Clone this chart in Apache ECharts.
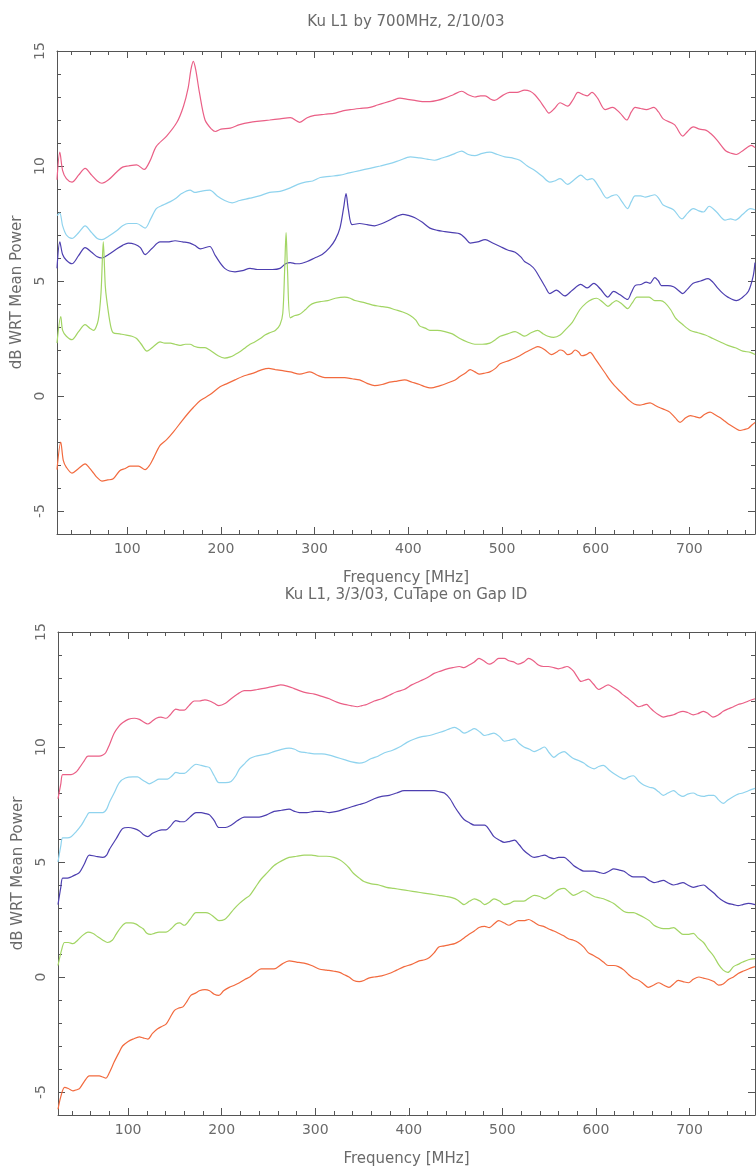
<!DOCTYPE html>
<html>
<head>
<meta charset="utf-8">
<script src="https://cdn.jsdelivr.net/npm/echarts@6/dist/echarts.min.js"></script>
<style>
  html, body { margin: 0; padding: 0; background: #ffffff; }
  #chart { width: 756px; height: 1171px; }
</style>
</head>
<body>
<div id="chart"></div>
<script>
// ---- Titles and axis text ----
const titleFeb = 'Ku L1 by 700MHz, 2/10/03';
const titleMar = 'Ku L1, 3/3/03, CuTape on Gap ID';
const xName = 'Frequency [MHz]';
const yName = 'dB WRT Mean Power';

// ---- Axis ranges and tick values ----
const xRange = [25, 770];
const yRange = [-6, 15];
const xMajorTicks = [100, 200, 300, 400, 500, 600, 700];
const xMinorTicks = [40, 60, 80, 120, 140, 160, 180, 220, 240, 260, 280, 320, 340, 360, 380,
  420, 440, 460, 480, 520, 540, 560, 580, 620, 640, 660, 680, 720, 740, 760];
const yMajorTicks = [-5, 0, 5, 10, 15];
const yMinorTicks = [-4, -3, -2, -1, 1, 2, 3, 4, 6, 7, 8, 9, 11, 12, 13, 14];

// ---- 2/10/03 traces: [frequency MHz, dB] ----
const febPink = [[25,9.4],[28,10.6],[31,9.8],[35,9.45],[41,9.3],[48,9.6],[55,9.9],[62,9.6],[68,9.35],[73,9.25],[80,9.4],[89,9.75],[95,9.95],[101,10.0],[110,10.05],[118,9.85],[124,10.2],[131,10.85],[142,11.3],[153,11.9],[160,12.6],[165,13.4],[168,14.2],[170.5,14.55],[173,14.2],[177,13.2],[183,12.0],[190,11.6],[194,11.5],[200,11.6],[210,11.65],[220,11.8],[231,11.9],[241,11.95],[252,12.0],[263,12.05],[274,12.1],[284,11.9],[292,12.1],[300,12.2],[311,12.25],[322,12.3],[330,12.4],[338,12.45],[348,12.5],[359,12.55],[367,12.65],[375,12.75],[383,12.85],[391,12.95],[399,12.9],[407,12.85],[415,12.8],[423,12.8],[431,12.85],[439,12.95],[448,13.1],[457,13.25],[464,13.1],[471,13.0],[477,13.05],[482,13.05],[488,12.9],[492,12.85],[500,13.05],[508,13.2],[516,13.2],[524,13.3],[530,13.25],[535,13.1],[540,12.85],[546,12.5],[550,12.3],[556,12.5],[562,12.75],[570,12.6],[576,12.9],[581,13.2],[587,13.1],[591,13.05],[596,13.2],[602,12.95],[610,12.45],[618,12.55],[626,12.3],[633,12.0],[638,12.35],[642,12.55],[648,12.5],[654,12.45],[662,12.55],[667,12.35],[672,12.05],[684,11.8],[693,11.3],[698,11.5],[704,11.7],[711,11.6],[718,11.55],[723,11.4],[729,11.15],[739,10.65],[745,10.55],[750,10.5],[758,10.7],[766,10.9],[770,10.8]];
const febCyan = [[25,7.85],[28,7.95],[31,7.4],[35,7.0],[41,6.85],[48,7.1],[55,7.4],[62,7.1],[68,6.85],[73,6.8],[80,6.95],[89,7.2],[95,7.4],[101,7.5],[110,7.5],[119,7.3],[125,7.7],[131,8.15],[138,8.3],[146,8.45],[152,8.6],[158,8.8],[167,8.95],[172,8.85],[178,8.9],[188,8.95],[196,8.7],[204,8.5],[212,8.4],[220,8.5],[231,8.6],[241,8.7],[252,8.85],[263,8.9],[274,9.05],[282,9.2],[290,9.3],[298,9.35],[306,9.5],[316,9.55],[327,9.6],[337,9.7],[348,9.8],[359,9.9],[370,10.0],[380,10.1],[391,10.25],[402,10.4],[412,10.35],[420,10.3],[428,10.25],[436,10.35],[444,10.45],[450,10.55],[457,10.65],[464,10.5],[471,10.45],[479,10.55],[487,10.6],[495,10.5],[503,10.4],[511,10.35],[519,10.25],[527,10.0],[535,9.8],[543,9.55],[551,9.3],[556,9.35],[562,9.45],[570,9.2],[577,9.4],[584,9.6],[591,9.4],[596,9.45],[604,9.05],[612,8.6],[617,8.7],[622,8.75],[628,8.45],[634,8.15],[638,8.45],[642,8.7],[648,8.7],[653,8.65],[658,8.7],[663,8.75],[668,8.55],[672,8.3],[683,8.1],[692,7.7],[698,7.95],[704,8.15],[710,8.05],[715,8.0],[721,8.25],[729,8.0],[738,7.65],[744,7.7],[749,7.65],[757,7.9],[765,8.15],[770,8.1]];
const febPurple = [[25,5.55],[28,6.7],[31,6.15],[35,5.9],[41,5.75],[48,6.1],[55,6.45],[62,6.25],[68,6.05],[73,6.0],[80,6.15],[89,6.4],[95,6.55],[101,6.65],[108,6.6],[114,6.45],[119,6.15],[126,6.4],[135,6.7],[143,6.7],[151,6.75],[159,6.7],[167,6.65],[172,6.55],[178,6.4],[188,6.5],[194,6.1],[204,5.55],[215,5.4],[223,5.45],[231,5.55],[239,5.5],[247,5.5],[255,5.5],[263,5.55],[269,5.75],[274,5.8],[280,5.75],[284,5.75],[292,5.85],[300,6.0],[308,6.15],[316,6.45],[322,6.8],[327,7.3],[331,8.2],[333.5,8.8],[336,8.1],[340,7.45],[348,7.5],[356,7.45],[364,7.4],[372,7.5],[380,7.65],[387,7.8],[394,7.9],[400,7.85],[407,7.75],[415,7.55],[423,7.3],[431,7.2],[439,7.15],[447,7.1],[455,7.05],[461,6.85],[466,6.65],[474,6.7],[482,6.8],[490,6.65],[498,6.5],[506,6.35],[514,6.25],[520,6.05],[524,5.85],[530,5.7],[535,5.5],[541,5.1],[546,4.75],[551,4.45],[558,4.6],[567,4.35],[575,4.6],[584,4.85],[591,4.7],[598,4.9],[605,4.65],[613,4.3],[619,4.55],[626,4.4],[634,4.2],[638,4.5],[642,4.8],[648,4.85],[654,4.95],[658,4.9],[663,5.15],[667,5.0],[670,4.8],[677,4.8],[683,4.75],[688,4.6],[693,4.45],[698,4.65],[704,4.9],[712,5.0],[720,5.1],[725,4.95],[730,4.7],[736,4.45],[741,4.3],[750,4.15],[757,4.3],[763,4.55],[768,5.2],[770,5.8]];
const febGreen = [[25,2.3],[29,3.45],[31,2.85],[35,2.6],[41,2.45],[48,2.8],[55,3.1],[60,2.95],[64,2.85],[69,3.3],[72,4.5],[74.4,6.7],[76.5,4.8],[78,4.2],[82,3.1],[85,2.75],[92,2.7],[99,2.65],[105,2.6],[110,2.5],[115,2.25],[121,1.95],[128,2.15],[135,2.35],[140,2.3],[146,2.3],[151,2.25],[156,2.2],[162,2.25],[167,2.25],[172,2.15],[178,2.1],[183,2.1],[188,2.0],[197,1.75],[204,1.65],[210,1.7],[215,1.8],[221,1.95],[226,2.1],[231,2.25],[236,2.35],[242,2.5],[247,2.65],[252,2.75],[258,2.85],[263,3.1],[266,3.6],[268,5.5],[269.5,7.1],[271,5.5],[274,3.4],[279,3.5],[284,3.55],[290,3.75],[295,3.95],[300,4.05],[306,4.1],[314,4.15],[322,4.25],[332,4.3],[338,4.25],[343,4.15],[354,4.05],[362,3.95],[370,3.9],[378,3.85],[386,3.75],[394,3.65],[402,3.5],[408,3.3],[412,3.05],[418,2.95],[423,2.85],[431,2.85],[439,2.8],[447,2.7],[455,2.5],[463,2.35],[471,2.25],[479,2.25],[487,2.3],[493,2.45],[498,2.6],[506,2.7],[514,2.8],[519,2.7],[524,2.6],[531,2.75],[538,2.85],[544,2.7],[549,2.6],[555,2.55],[562,2.65],[568,2.9],[575,3.2],[583,3.75],[590,4.05],[596,4.2],[601,4.25],[607,4.1],[613,3.9],[618,4.05],[622,4.15],[628,4.0],[634,3.8],[639,4.05],[644,4.3],[650,4.3],[657,4.3],[663,4.15],[669,4.15],[674,4.05],[680,3.75],[685,3.4],[693,3.1],[701,2.85],[709,2.75],[717,2.65],[725,2.5],[733,2.35],[741,2.2],[749,2.1],[757,1.95],[765,1.9],[770,1.8]];
const febOrange = [[25,-3.2],[29,-2.0],[31.7,-2.8],[35,-3.1],[41,-3.35],[48,-3.15],[55,-2.95],[60,-3.15],[64,-3.35],[68,-3.55],[73,-3.7],[79,-3.65],[85,-3.6],[92,-3.25],[98,-3.15],[103,-3.05],[112,-3.05],[119,-3.2],[124,-3.0],[128,-2.7],[135,-2.15],[142,-1.9],[149.5,-1.55],[158,-1.1],[165,-0.75],[170.5,-0.5],[178,-0.2],[188,0.05],[199,0.4],[207,0.55],[215,0.7],[223,0.85],[231,0.95],[238,1.05],[244,1.15],[251,1.2],[258,1.15],[266,1.1],[274,1.05],[284,0.95],[295,1.05],[303,0.9],[311,0.8],[322,0.8],[332,0.8],[340,0.75],[348,0.7],[356,0.55],[364,0.45],[372,0.5],[380,0.6],[388,0.65],[396,0.7],[404,0.6],[412,0.5],[418,0.4],[423,0.35],[434,0.45],[444,0.6],[450,0.7],[455,0.85],[461,1.0],[466,1.15],[471,1.05],[476,0.95],[482,1.0],[487,1.05],[493,1.2],[498,1.4],[508,1.55],[514,1.65],[519,1.75],[525,1.9],[530,2.0],[535,2.1],[538,2.15],[542,2.1],[546,2.0],[553,1.8],[558,1.9],[562,2.0],[566,1.95],[570,1.8],[574,1.85],[578,2.0],[582,1.9],[585,1.75],[590,1.8],[594,1.9],[599,1.65],[604,1.35],[610,1.0],[615,0.7],[620,0.45],[626,0.2],[631,0.0],[636,-0.2],[641,-0.35],[647,-0.4],[652,-0.35],[658,-0.3],[663,-0.4],[668,-0.5],[674,-0.6],[679,-0.7],[685,-0.95],[690,-1.15],[696,-0.95],[701,-0.85],[706,-0.9],[711,-0.95],[716,-0.8],[722,-0.7],[727,-0.8],[733,-0.95],[738,-1.1],[743,-1.25],[749,-1.4],[754,-1.5],[759,-1.45],[763,-1.4],[767,-1.25],[770,-1.15]];

// ---- 3/3/03 traces: [frequency MHz, dB] ----
const marPink = [[25,7.75],[28,8.4],[30,8.8],[35,8.8],[39,8.8],[44,8.9],[48,9.1],[53,9.4],[57,9.6],[63,9.6],[69,9.6],[73,9.65],[76,9.75],[80,10.1],[85,10.6],[90,10.9],[94,11.05],[100,11.2],[106.6,11.25],[112,11.2],[116,11.1],[121,11.0],[125,11.1],[130,11.25],[135,11.3],[140.5,11.25],[145,11.4],[151,11.65],[156,11.6],[160,11.6],[165,11.8],[170.7,12.0],[176,12.0],[182,12.05],[187,12.0],[192,11.9],[197,11.8],[204,11.9],[210,12.1],[217,12.3],[224,12.45],[231,12.45],[238,12.5],[245,12.55],[251,12.6],[257,12.65],[263,12.7],[270,12.65],[277,12.55],[283,12.45],[291,12.35],[299,12.3],[307,12.2],[315,12.1],[323,11.95],[331,11.85],[338,11.8],[345,11.75],[350,11.8],[355,11.85],[363,12.0],[371,12.1],[379,12.25],[387,12.4],[395,12.5],[403,12.7],[411,12.85],[419,13.0],[427,13.2],[434,13.3],[441,13.4],[447,13.45],[454,13.5],[459,13.45],[464,13.55],[470,13.7],[475,13.85],[480,13.75],[486,13.6],[491,13.7],[496,13.85],[502,13.85],[507,13.75],[512,13.7],[517,13.6],[523,13.7],[528,13.85],[533,13.75],[539,13.55],[544,13.5],[549,13.5],[555,13.45],[560,13.4],[565,13.45],[569,13.5],[572,13.45],[576,13.3],[580,13.05],[584,12.85],[588,12.9],[592,12.95],[597,12.75],[603,12.5],[608,12.6],[613,12.7],[618,12.6],[624,12.45],[628,12.3],[633,12.15],[639,11.95],[646,11.75],[650,11.8],[654,11.85],[658,11.7],[662,11.55],[667,11.4],[672,11.3],[677,11.35],[683,11.4],[688,11.5],[693,11.55],[698,11.5],[704,11.4],[709,11.45],[715,11.55],[720,11.45],[725,11.3],[731,11.4],[736,11.55],[741,11.65],[747,11.75],[752,11.85],[757,11.9],[763,12.0],[770,12.1]];
const marCyan = [[25,5.0],[28,5.7],[30,6.05],[35,6.05],[39,6.1],[44,6.3],[50,6.6],[55,6.95],[58.5,7.15],[65,7.15],[73,7.15],[77,7.3],[80,7.6],[85,8.0],[90.6,8.45],[97,8.65],[105,8.7],[110,8.7],[114,8.6],[118,8.5],[122.6,8.4],[128,8.5],[133,8.6],[138,8.6],[142,8.6],[147,8.75],[151,8.9],[156,8.85],[160,8.85],[166,9.05],[172.5,9.25],[178,9.2],[183,9.15],[187,9.1],[192,8.75],[197,8.45],[204,8.45],[210,8.5],[215,8.75],[219,9.05],[225,9.3],[230,9.5],[236,9.6],[242,9.65],[249,9.7],[256,9.8],[264,9.9],[272,9.95],[278,9.9],[283,9.8],[291,9.75],[299,9.7],[307,9.7],[315,9.65],[323,9.55],[331,9.45],[339,9.35],[347,9.3],[353,9.35],[360,9.5],[367,9.6],[374,9.75],[382,9.85],[390,10.0],[398,10.2],[406,10.35],[414,10.45],[422,10.5],[430,10.6],[438,10.7],[444,10.8],[449,10.85],[454,10.75],[459,10.6],[465,10.7],[470,10.8],[476,10.65],[481,10.5],[486,10.55],[491,10.6],[497,10.45],[502,10.25],[508,10.3],[513,10.35],[518,10.15],[523,10.0],[529,9.9],[534,9.8],[540,9.9],[545,10.0],[550,9.75],[555,9.55],[560,9.7],[566,9.8],[571,9.65],[576,9.5],[582,9.4],[587,9.3],[592,9.15],[598,9.05],[603,9.15],[608,9.2],[614,9.0],[619,8.85],[625,8.7],[630,8.6],[635,8.7],[640,8.75],[646,8.5],[651,8.35],[657,8.25],[662,8.2],[667,8.05],[672,7.9],[677,8.0],[683,8.1],[688,7.95],[693,7.85],[698,7.95],[704,8.0],[709,7.9],[715,7.85],[720,7.9],[726,7.9],[731,7.7],[736,7.55],[741,7.7],[747,7.85],[752,7.95],[757,8.0],[763,8.1],[770,8.2]];
const marPurple = [[25,3.15],[28,3.9],[30,4.3],[35,4.3],[39,4.35],[44,4.45],[48,4.55],[53,4.9],[58.5,5.3],[65,5.25],[73,5.2],[77,5.3],[80,5.55],[87,6.0],[94,6.45],[100,6.5],[106.6,6.45],[112,6.35],[116,6.2],[121,6.1],[126,6.25],[131.5,6.35],[136,6.4],[140.5,6.4],[145,6.55],[151,6.8],[156,6.75],[160,6.75],[166,6.95],[172.5,7.15],[178,7.15],[183,7.1],[187,7.05],[192,6.8],[197,6.5],[204,6.5],[210,6.6],[217,6.8],[224,6.95],[232,6.95],[240,6.95],[248,7.05],[256,7.2],[264,7.25],[272,7.3],[278,7.2],[283,7.15],[291,7.15],[299,7.2],[307,7.2],[315,7.15],[323,7.2],[331,7.3],[339,7.4],[347,7.5],[355,7.6],[363,7.75],[371,7.85],[379,7.9],[387,8.0],[395,8.1],[403,8.1],[411,8.1],[419,8.1],[427,8.1],[433,8.05],[438,8.0],[444,7.75],[449,7.4],[454,7.1],[459,6.85],[465,6.7],[470,6.6],[476,6.6],[481,6.6],[486,6.4],[491,6.1],[497,5.95],[502,5.85],[508,5.9],[513,5.95],[518,5.75],[523,5.5],[529,5.3],[534,5.2],[540,5.25],[545,5.3],[550,5.2],[555,5.15],[560,5.2],[566,5.2],[571,5.05],[576,4.85],[582,4.7],[587,4.6],[592,4.6],[598,4.6],[603,4.55],[608,4.5],[614,4.6],[619,4.7],[625,4.65],[630,4.6],[635,4.45],[640,4.35],[646,4.35],[651,4.35],[657,4.2],[662,4.1],[667,4.15],[672,4.2],[677,4.1],[683,4.0],[688,4.05],[693,4.1],[698,4.0],[704,3.9],[709,3.95],[715,4.0],[720,3.85],[726,3.65],[731,3.45],[736,3.3],[741,3.2],[747,3.15],[752,3.1],[757,3.15],[763,3.2],[770,3.15]];
const marGreen = [[25,0.5],[29,1.2],[32,1.5],[36,1.5],[41,1.45],[46,1.6],[51,1.8],[57,1.95],[62,1.9],[67.5,1.75],[73,1.6],[78,1.5],[83,1.6],[87,1.85],[92,2.15],[98,2.35],[103,2.35],[108.5,2.3],[112,2.2],[116,2.1],[120,1.9],[124,1.85],[128,1.9],[133,1.95],[137,1.95],[140.5,1.95],[146,2.1],[151,2.3],[155,2.35],[160,2.25],[166,2.5],[172.5,2.8],[178,2.8],[183,2.8],[187,2.75],[192,2.6],[197,2.45],[203,2.5],[208,2.7],[213,2.95],[219,3.2],[225,3.4],[230,3.55],[236,3.9],[242,4.25],[249,4.55],[256,4.85],[264,5.05],[272,5.2],[280,5.25],[288,5.3],[296,5.3],[304,5.25],[312,5.25],[320,5.2],[326,5.1],[331,4.95],[336,4.75],[341,4.5],[347,4.3],[352,4.15],[360,4.05],[368,4.0],[376,3.9],[384,3.85],[392,3.8],[400,3.75],[408,3.7],[416,3.65],[424,3.6],[432,3.55],[440,3.5],[446,3.45],[452,3.35],[459,3.15],[465,3.3],[470,3.4],[476,3.3],[481,3.15],[486,3.25],[491,3.4],[497,3.3],[502,3.15],[508,3.2],[513,3.3],[518,3.3],[523,3.3],[529,3.45],[534,3.55],[540,3.5],[545,3.4],[550,3.5],[555,3.65],[560,3.8],[566,3.85],[571,3.7],[576,3.55],[582,3.65],[587,3.75],[592,3.65],[598,3.5],[603,3.45],[608,3.4],[614,3.3],[619,3.2],[625,3.0],[630,2.85],[635,2.8],[640,2.8],[646,2.7],[651,2.6],[657,2.45],[662,2.25],[667,2.15],[672,2.1],[677,2.1],[683,2.15],[688,2.0],[693,1.85],[698,1.85],[704,1.9],[709,1.7],[715,1.5],[720,1.2],[726,0.9],[731,0.55],[736,0.3],[741,0.2],[747,0.45],[752,0.55],[757,0.65],[763,0.75],[770,0.8]];
const marOrange = [[25,-5.75],[28,-5.2],[32,-4.8],[36,-4.85],[41,-4.95],[45,-4.9],[48,-4.85],[53,-4.55],[58.5,-4.3],[63,-4.3],[69,-4.3],[73,-4.35],[76,-4.4],[80,-4.15],[85,-3.7],[90,-3.3],[94,-3.0],[100,-2.8],[105,-2.7],[112,-2.6],[116,-2.65],[121,-2.7],[126,-2.45],[131.5,-2.25],[136,-2.15],[140.5,-2.05],[145,-1.75],[149.5,-1.45],[154,-1.35],[158.5,-1.3],[163,-1.05],[167,-0.8],[172,-0.7],[176,-0.6],[182,-0.55],[187,-0.6],[192,-0.75],[197,-0.8],[202,-0.6],[208,-0.45],[214,-0.35],[219,-0.25],[225,-0.1],[230,0.0],[236,0.2],[242,0.35],[249,0.35],[256,0.35],[264,0.55],[272,0.7],[280,0.65],[288,0.6],[296,0.5],[304,0.35],[312,0.3],[320,0.25],[326,0.2],[331,0.1],[336,0.0],[341,-0.15],[347,-0.2],[352,-0.15],[357,-0.05],[363,0.0],[371,0.05],[379,0.15],[387,0.3],[395,0.45],[403,0.55],[411,0.7],[417,0.75],[422,0.85],[427,1.05],[432,1.3],[438,1.35],[443,1.4],[449,1.45],[454,1.55],[459,1.7],[464,1.85],[470,2.0],[475,2.15],[481,2.2],[486,2.15],[491,2.3],[496,2.45],[502,2.35],[507,2.25],[512,2.35],[517,2.45],[523,2.45],[528,2.5],[533,2.4],[539,2.25],[544,2.2],[549,2.1],[555,2.0],[560,1.9],[565,1.8],[571,1.65],[576,1.6],[581,1.5],[587,1.3],[592,1.05],[597,0.95],[603,0.8],[608,0.65],[613,0.5],[619,0.5],[624,0.45],[630,0.3],[635,0.1],[640,-0.05],[646,-0.15],[651,-0.3],[656,-0.45],[662,-0.35],[667,-0.25],[672,-0.35],[678,-0.45],[683,-0.3],[688,-0.15],[693,-0.2],[699,-0.25],[704,-0.1],[710,0.0],[715,-0.05],[720,-0.1],[726,-0.2],[731,-0.35],[736,-0.3],[742,-0.1],[747,0.0],[752,0.15],[757,0.25],[763,0.35],[770,0.45]];

// ---- Styling ----
const textColor = '#6a6a6a';
const axisColor = '#555555';
const fontFamily = '"DejaVu Sans", sans-serif';
const traceColors = {
  pink: '#ea5f86',
  cyan: '#8fd3ee',
  purple: '#4d3fb0',
  green: '#a2d564',
  orange: '#f26a3e'
};

// Builds the frame of one panel: ticks on all four sides, labels on the left and bottom.
function panelAxes(gridIndex) {
  const lineStyle = { color: axisColor, width: 1 };
  const frameLine = { show: true, onZero: false, lineStyle };
  const noLine = { show: false, onZero: false };
  const xBase = { gridIndex, type: 'value', min: xRange[0], max: xRange[1], splitLine: { show: false } };
  const yBase = { gridIndex, type: 'value', min: yRange[0], max: yRange[1], splitLine: { show: false } };
  const xs = [
    Object.assign({}, xBase, {
      position: 'bottom',
      axisLine: frameLine,
      axisTick: { show: true, inside: true, length: 7, customValues: xMajorTicks, lineStyle },
      axisLabel: { show: true, customValues: xMajorTicks, margin: 8, color: textColor, fontSize: 14, fontFamily },
      name: xName, nameLocation: 'middle', nameGap: 37,
      nameTextStyle: { color: textColor, fontSize: 15, fontFamily }
    }),
    Object.assign({}, xBase, {
      position: 'bottom',
      axisLine: noLine,
      axisTick: { show: true, inside: true, length: 4, customValues: xMinorTicks, lineStyle },
      axisLabel: { show: false }
    }),
    Object.assign({}, xBase, {
      position: 'top',
      axisLine: frameLine,
      axisTick: { show: true, inside: true, length: 7, customValues: xMajorTicks, lineStyle },
      axisLabel: { show: false }
    }),
    Object.assign({}, xBase, {
      position: 'top',
      axisLine: noLine,
      axisTick: { show: true, inside: true, length: 4, customValues: xMinorTicks, lineStyle },
      axisLabel: { show: false }
    })
  ];
  const ys = [
    Object.assign({}, yBase, {
      position: 'left',
      axisLine: frameLine,
      axisTick: { show: true, inside: true, length: 7, customValues: yMajorTicks, lineStyle },
      axisLabel: { show: true, customValues: yMajorTicks, rotate: 90, margin: 10, color: textColor, fontSize: 14, fontFamily },
      name: yName, nameLocation: 'middle', nameGap: 31, nameRotate: 90,
      nameTextStyle: { color: textColor, fontSize: 15, fontFamily }
    }),
    Object.assign({}, yBase, {
      position: 'left',
      axisLine: noLine,
      axisTick: { show: true, inside: true, length: 4, customValues: yMinorTicks, lineStyle },
      axisLabel: { show: false }
    }),
    Object.assign({}, yBase, {
      position: 'right',
      axisLine: frameLine,
      axisTick: { show: true, inside: true, length: 7, customValues: yMajorTicks, lineStyle },
      axisLabel: { show: false }
    }),
    Object.assign({}, yBase, {
      position: 'right',
      axisLine: noLine,
      axisTick: { show: true, inside: true, length: 4, customValues: yMinorTicks, lineStyle },
      axisLabel: { show: false }
    })
  ];
  return { xs, ys };
}

function trace(data, color, axisIndex) {
  return {
    type: 'line',
    data,
    xAxisIndex: axisIndex,
    yAxisIndex: axisIndex,
    showSymbol: false,
    smooth: 0.3,
    clip: true,
    lineStyle: { color, width: 1.2 },
    silent: true
  };
}

const febPanel = panelAxes(0);
const marPanel = panelAxes(1);

const option = {
  backgroundColor: '#ffffff',
  animation: false,
  grid: [
    { left: 57, top: 51, width: 698, height: 483 },
    { left: 58, top: 632, width: 697, height: 483 }
  ],
  xAxis: febPanel.xs.concat(marPanel.xs),
  yAxis: febPanel.ys.concat(marPanel.ys),
  graphic: [
    { type: 'text', x: 406, y: 22, style: { text: titleFeb, fill: textColor, font: '15px ' + fontFamily, textAlign: 'center', textVerticalAlign: 'middle' } },
    { type: 'text', x: 406, y: 595, style: { text: titleMar, fill: textColor, font: '15px ' + fontFamily, textAlign: 'center', textVerticalAlign: 'middle' } }
  ],
  series: [
    trace(febPink, traceColors.pink, 0),
    trace(febCyan, traceColors.cyan, 0),
    trace(febPurple, traceColors.purple, 0),
    trace(febGreen, traceColors.green, 0),
    trace(febOrange, traceColors.orange, 0),
    trace(marPink, traceColors.pink, 4),
    trace(marCyan, traceColors.cyan, 4),
    trace(marPurple, traceColors.purple, 4),
    trace(marGreen, traceColors.green, 4),
    trace(marOrange, traceColors.orange, 4)
  ]
};

const chart = echarts.init(document.getElementById('chart'), null, { renderer: 'canvas' });
chart.setOption(option);
</script>
</body>
</html>
